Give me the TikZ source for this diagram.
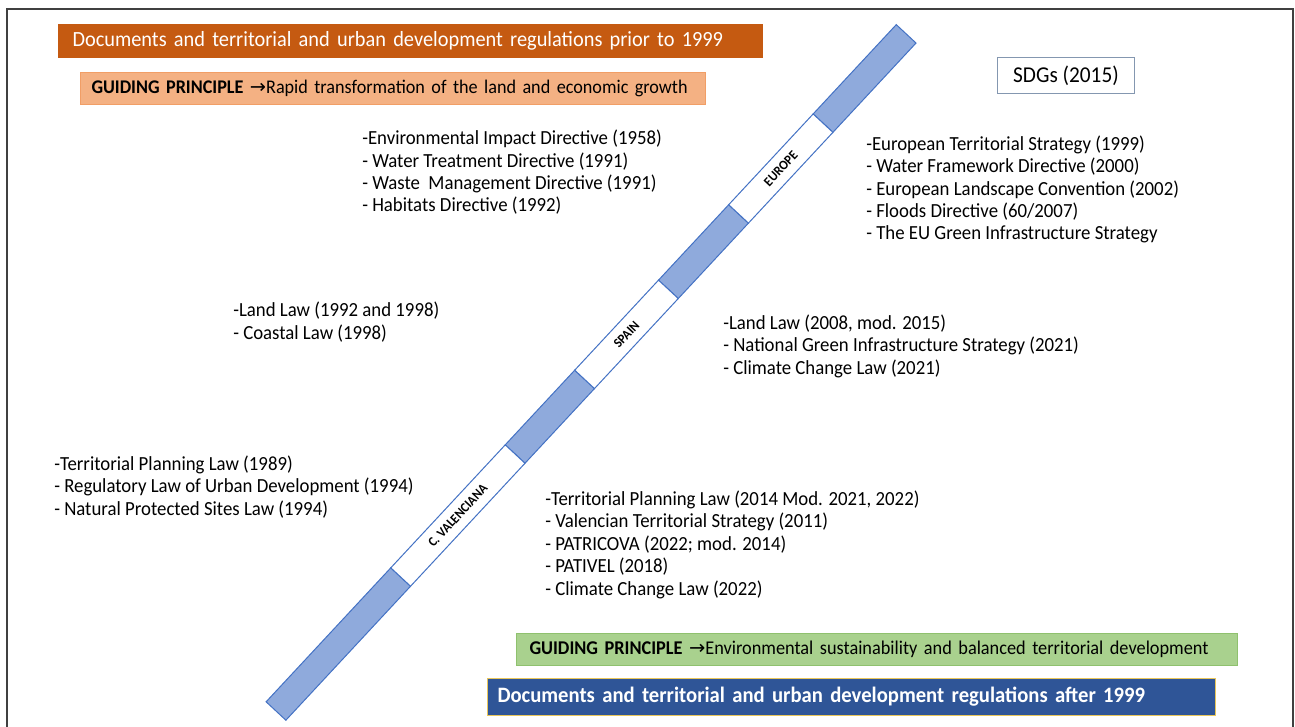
\documentclass[tikz,border=0pt]{standalone}
\usepackage{fontspec}
\setmainfont{Carlito}[FakeStretch=0.94]
\newfontfamily\arrowfont{DejaVu Sans}
\definecolor{headorange}{HTML}{C55A11}
\definecolor{salmonfill}{HTML}{F4B183}
\definecolor{salmonedge}{HTML}{F19E66}
\definecolor{sdgedge}{HTML}{8497B0}
\definecolor{greenfill}{HTML}{A9D18E}
\definecolor{greenedge}{HTML}{8FC16E}
\definecolor{bluefill}{HTML}{2F5597}
\definecolor{blueedge}{HTML}{E9C65A}
\definecolor{bandfill}{HTML}{8FAADC}
\definecolor{bandedge}{HTML}{4472C4}
\definecolor{framecol}{HTML}{404040}
\begin{document}
\begin{tikzpicture}[x=0.75pt, y=-0.75pt,
    lawlist/.style={align=left, inner sep=0pt, anchor=base west, font=\fontsize{15}{16.8}\selectfont},
    headbox/.style={anchor=north west, align=left, inner ysep=0pt, line width=0.75pt},
    bandblue/.style={draw=bandedge, fill=bandfill, line width=0.75pt},
    bandwhite/.style={draw=bandedge, fill=white, line width=0.75pt},
    bandlabel/.style={rotate=47.06, inner sep=0pt, font=\fontsize{10}{11}\selectfont\bfseries}]
    \useasboundingbox (0,0) rectangle (1295,727);
    \draw[framecol, line width=1.1pt] (7,727) -- (7,9) -- (1293,9) -- (1293,727);

    % headings
    \node[headbox, fill=headorange, draw=headorange, text=white, minimum width=528pt, minimum height=24.75pt,
        inner xsep=10.5pt, text width=507pt, font=\fontsize{16.25}{18}\selectfont] (prior) at (58,24)
        {Documents and territorial and urban development regulations prior to 1999};
    \node[headbox, fill=salmonfill, draw=salmonedge, minimum width=468.75pt, minimum height=24pt,
        inner xsep=8.25pt, text width=452.25pt, font=\fontsize{14.5}{16}\selectfont] (oldprinciple) at (80,72)
        {\textbf{GUIDING PRINCIPLE} {\arrowfont→}Rapid transformation of the land and economic growth};
    \node[headbox, align=center, fill=white, draw=sdgedge, minimum width=102.75pt, minimum height=27pt,
        font=\fontsize{17}{18}\selectfont] (sdgs) at (997,57) {SDGs (2015)};
    \node[headbox, fill=greenfill, draw=greenedge, minimum width=540.75pt, minimum height=24pt,
        inner xsep=9.75pt, text width=521.25pt, font=\fontsize{14.6}{16}\selectfont] (newprinciple) at (516,633)
        {\textbf{GUIDING PRINCIPLE} {\arrowfont→}Environmental sustainability and balanced territorial development};
    \node[headbox, fill=bluefill, draw=blueedge, text=white, minimum width=546pt, minimum height=27.75pt,
        inner xsep=7.5pt, text width=531pt, font=\fontsize{16.5}{18}\selectfont\bfseries] (after) at (487,678)
        {Documents and territorial and urban development regulations after 1999};

    % the diagonal band
    \begin{scope}[shift={(276,711)}, rotate=47.06]
        \foreach \a/\b in {0/183, 351/453, 576/679, 803/925} \draw[bandblue] (\a,-13.5) rectangle (\b,13.5);
        \foreach \a/\b/\nm/\lbl in {183/351/valencia/C. VALENCIANA, 453/576/spain/SPAIN, 679/803/europe/EUROPE} {
            \draw[bandwhite] (\a,-13.5) rectangle (\b,13.5);
            \node[bandlabel] (\nm) at ({(\a+\b)/2},0) {\lbl};
        }
    \end{scope}

    % europe (base = last line)
    \node[lawlist] (eulist) at (362,212) {-Environmental Impact Directive (1958)\\- Water Treatment Directive (1991)\\- Waste\ \ Management Directive (1991)\\- Habitats Directive (1992)};
    \node[lawlist] (eustrategy) at (866,240) {-European Territorial Strategy (1999)\\- Water Framework Directive (2000)\\- European Landscape Convention (2002)\\- Floods Directive (60/2007)\\- The EU Green Infrastructure Strategy};

    % spain
    \node[lawlist] (spainold) at (233,339) {-Land Law (1992 and 1998)\\- Coastal Law (1998)};
    \node[lawlist] (spainnew) at (723,374) {-Land Law (2008, mod. 2015)\\- National Green Infrastructure Strategy (2021)\\- Climate Change Law (2021)};

    % c. valenciana
    \node[lawlist] (valold) at (54,515) {-Territorial Planning Law (1989)\\- Regulatory Law of Urban Development (1994)\\- Natural Protected Sites Law (1994)};
    \node[lawlist] (valnew) at (545,595) {-Territorial Planning Law (2014 Mod. 2021, 2022)\\- Valencian Territorial Strategy (2011)\\- PATRICOVA (2022; mod. 2014)\\- PATIVEL (2018)\\- Climate Change Law (2022)};
\end{tikzpicture}
\end{document}
